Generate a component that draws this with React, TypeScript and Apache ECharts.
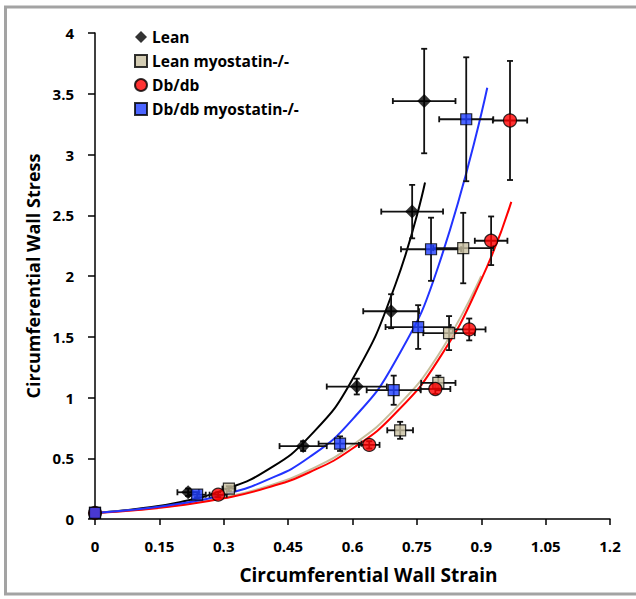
import React, { useEffect, useRef } from "react";
import * as echarts from "echarts";

// Scatter data: x (strain), y (stress), x error, y error
const leanX = [0, 0.217, 0.485, 0.61, 0.69, 0.739, 0.767];
const leanY = [0.05, 0.22, 0.6, 1.09, 1.71, 2.53, 3.44];
const leanXErr = [0, 0.025, 0.055, 0.07, 0.065, 0.072, 0.073];
const leanYErr = [0, 0.03, 0.04, 0.065, 0.14, 0.22, 0.43];

const leanMstnX = [0, 0.312, 0.711, 0.8, 0.825, 0.858];
const leanMstnY = [0.05, 0.25, 0.73, 1.12, 1.53, 2.23];
const leanMstnXErr = [0, 0.015, 0.03, 0.04, 0.06, 0.07];
const leanMstnYErr = [0, 0.02, 0.07, 0.06, 0.14, 0.29];

const dbX = [0, 0.287, 0.639, 0.793, 0.872, 0.923, 0.967];
const dbY = [0.05, 0.2, 0.61, 1.07, 1.56, 2.29, 3.28];
const dbXErr = [0, 0.02, 0.024, 0.035, 0.038, 0.038, 0.04];
const dbYErr = [0, 0.02, 0.03, 0.04, 0.09, 0.2, 0.49];

const dbMstnX = [0, 0.238, 0.571, 0.696, 0.753, 0.783, 0.865];
const dbMstnY = [0.05, 0.2, 0.62, 1.06, 1.58, 2.22, 3.29];
const dbMstnXErr = [0, 0.02, 0.05, 0.063, 0.076, 0.07, 0.063];
const dbMstnYErr = [0, 0.02, 0.06, 0.12, 0.18, 0.26, 0.51];

// Fitted curves
const leanFitX = [0, 0.1, 0.2, 0.3, 0.4, 0.5, 0.6, 0.7, 0.769];
const leanFitY = [0.05, 0.084, 0.14, 0.24, 0.4, 0.68, 1.15, 1.93, 2.77];
const leanMstnFitX = [0, 0.1, 0.2, 0.3, 0.4, 0.5, 0.6, 0.7, 0.8, 0.9];
const leanMstnFitY = [0.05, 0.077, 0.118, 0.178, 0.268, 0.404, 0.608, 0.91, 1.35, 2.0];
const dbFitX = [0, 0.1, 0.2, 0.3, 0.4, 0.5, 0.6, 0.7, 0.8, 0.9, 0.97];
const dbFitY = [0.05, 0.075, 0.113, 0.17, 0.256, 0.385, 0.58, 0.87, 1.31, 1.97, 2.61];
const dbMstnFitX = [0, 0.1, 0.2, 0.3, 0.4, 0.5, 0.6, 0.7, 0.8, 0.914];
const dbMstnFitY = [0.05, 0.08, 0.127, 0.2, 0.32, 0.51, 0.82, 1.3, 2.08, 3.55];

const seriesNames = ["Lean", "Lean myostatin-/-", "Db/db", "Db/db myostatin-/-"];
const xTicks = ["0", "0.15", "0.3", "0.45", "0.6", "0.75", "0.9", "1.05", "1.2"];

const FONT = "'Open Sans', Lato, sans-serif";

function zip4(x: number[], y: number[], ex: number[], ey: number[]) {
  return x.map((v, i) => [v, y[i], ex[i], ey[i]]);
}
function zip2(x: number[], y: number[]) {
  return x.map((v, i) => [v, y[i]]);
}

const errRender = (params: any, api: any) => {
  const x = api.value(0);
  const y = api.value(1);
  const ex = api.value(2);
  const ey = api.value(3);
  const c = api.coord([x, y]);
  const l = api.coord([x - ex, y]);
  const r = api.coord([x + ex, y]);
  const t = api.coord([x, y + ey]);
  const b = api.coord([x, y - ey]);
  const cap = 3;
  const style = { stroke: "#111", lineWidth: 1.8 };
  const children: any[] = [];
  if (ex > 0) {
    children.push(
      { type: "line", shape: { x1: l[0], y1: c[1], x2: r[0], y2: c[1] }, style },
      { type: "line", shape: { x1: l[0], y1: c[1] - cap, x2: l[0], y2: c[1] + cap }, style },
      { type: "line", shape: { x1: r[0], y1: c[1] - cap, x2: r[0], y2: c[1] + cap }, style }
    );
  }
  if (ey > 0) {
    children.push(
      { type: "line", shape: { x1: c[0], y1: t[1], x2: c[0], y2: b[1] }, style },
      { type: "line", shape: { x1: c[0] - cap, y1: t[1], x2: c[0] + cap, y2: t[1] }, style },
      { type: "line", shape: { x1: c[0] - cap, y1: b[1], x2: c[0] + cap, y2: b[1] }, style }
    );
  }
  return { type: "group", children };
};

export default function App() {
  const ref = useRef<HTMLDivElement>(null);
  useEffect(() => {
    document.body.style.margin = "0";
    const chart = echarts.init(ref.current!, undefined, { renderer: "svg" });
    const fits = [
      { data: zip2(leanFitX, leanFitY), color: "#000000" },
      { data: zip2(leanMstnFitX, leanMstnFitY), color: "#c6be9c" },
      { data: zip2(dbFitX, dbFitY), color: "#ff0000" },
      { data: zip2(dbMstnFitX, dbMstnFitY), color: "#2233ff" },
    ];
    const pts = [
      { name: seriesNames[0], data: zip4(leanX, leanY, leanXErr, leanYErr), symbol: "diamond", size: 14, color: "#000000" },
      { name: seriesNames[1], data: zip4(leanMstnX, leanMstnY, leanMstnXErr, leanMstnYErr), symbol: "rect", size: 11, color: "#c9c1a1" },
      { name: seriesNames[2], data: zip4(dbX, dbY, dbXErr, dbYErr), symbol: "circle", size: 13, color: "#ff0000" },
      { name: seriesNames[3], data: zip4(dbMstnX, dbMstnY, dbMstnXErr, dbMstnYErr), symbol: "rect", size: 11, color: "#1f3fff" },
    ];
    const series: any[] = [];
    fits.forEach((f) => {
      series.push({
        type: "line",
        data: f.data,
        smooth: true,
        showSymbol: false,
        symbol: "none",
        lineStyle: { color: f.color, width: 2 },
        z: 2,
        silent: true,
      });
    });
    pts.forEach((p) => {
      series.push({
        type: "custom",
        data: p.data,
        encode: { x: 0, y: 1 },
        renderItem: errRender,
        z: 3,
        silent: true,
      });
    });
    pts.forEach((p) => {
      series.push({
        type: "scatter",
        name: p.name,
        data: p.data.map((d) => [d[0], d[1]]),
        symbol: p.symbol,
        symbolSize: p.size,
        itemStyle: { color: p.color, borderColor: "#000", borderWidth: p.symbol === "diamond" ? 0 : 1.2 },
        z: 4,
      });
    });

    chart.setOption({
      animation: false,
      backgroundColor: "#ffffff",
      grid: { left: 95, right: 26, top: 33, bottom: 80, containLabel: false },
      legend: {
        data: seriesNames,
        orient: "vertical",
        left: 129,
        top: 23,
        itemWidth: 12,
        itemHeight: 12,
        itemGap: 6,
        textStyle: { fontFamily: FONT, fontWeight: "bold", fontSize: 15.5, color: "#000", lineHeight: 18 },
      },
      graphic: [
        {
          type: "rect",
          shape: { x: 5.5, y: 7, width: 660, height: 587 },
          style: { fill: "none", stroke: "#a3a3a3", lineWidth: 3 },
          silent: true,
        },
      ],
      xAxis: {
        type: "value",
        min: 0,
        max: 1.2,
        interval: 0.15,
        name: "Circumferential Wall Strain",
        nameLocation: "middle",
        nameGap: 46,
        nameTextStyle: { fontFamily: FONT, fontWeight: "bold", fontSize: 19, color: "#000", padding: [0, 0, 0, 32] },
        axisLine: { show: true, onZero: false, lineStyle: { color: "#000", width: 1.5 } },
        axisTick: { show: true, length: 6, lineStyle: { color: "#000", width: 1.5 } },
        axisLabel: {
          margin: 19,
          fontFamily: FONT,
          fontWeight: "bold",
          fontSize: 15,
          color: "#000",
          formatter: (v: number) => xTicks[Math.round(v / 0.15)] ?? String(v),
        },
        splitLine: { show: false },
      },
      yAxis: {
        type: "value",
        min: 0,
        max: 4,
        interval: 0.5,
        name: "Circumferential Wall Stress",
        nameLocation: "middle",
        nameGap: 50,
        nameTextStyle: { fontFamily: FONT, fontWeight: "bold", fontSize: 18, color: "#000" },
        axisLine: { show: true, onZero: false, lineStyle: { color: "#000", width: 1.5 } },
        axisTick: { show: true, length: 7, lineStyle: { color: "#000", width: 1.5 } },
        axisLabel: { margin: 21, fontFamily: FONT, fontWeight: "bold", fontSize: 15, color: "#000" },
        splitLine: { show: false },
      },
      series,
    });
    return () => chart.dispose();
  }, []);
  return <div ref={ref} style={{ width: 636, height: 599 }} />;
}
